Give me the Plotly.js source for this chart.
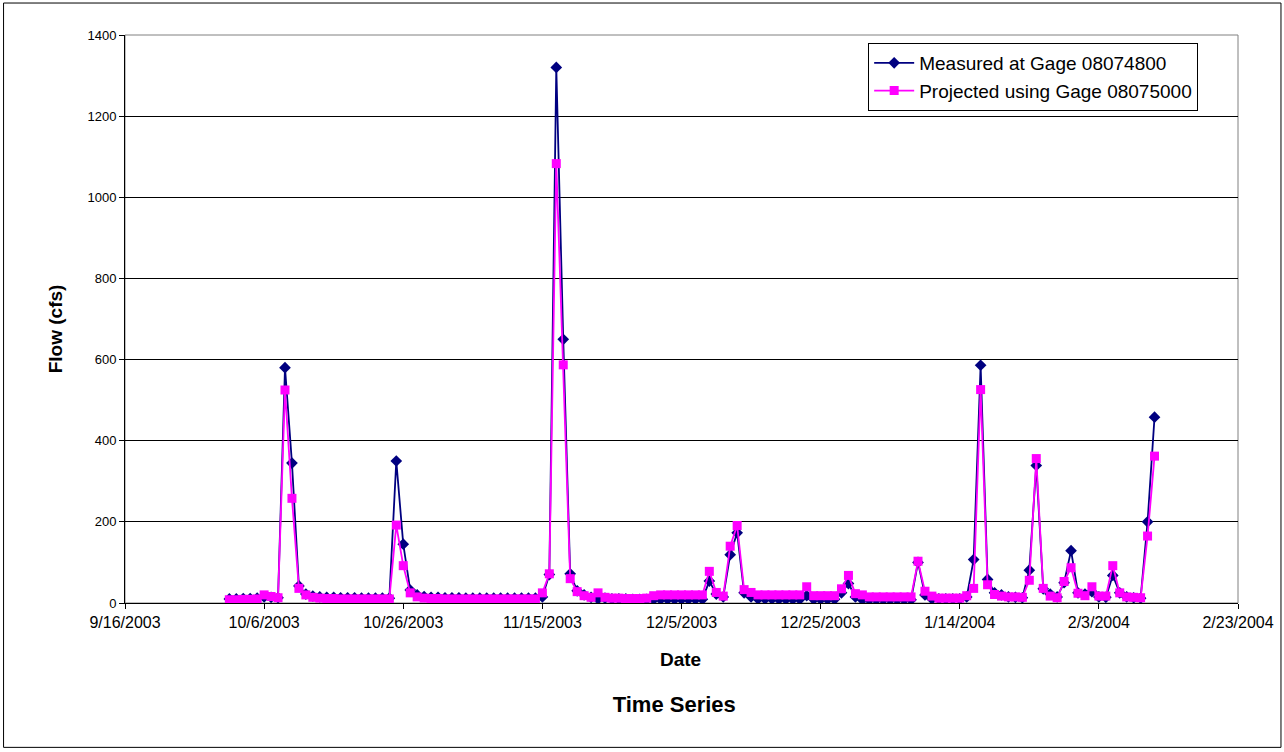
<!DOCTYPE html>
<html>
<head>
<meta charset="utf-8">
<script src="https://cdn.plot.ly/plotly-3.0.1.min.js"></script>
<style>
  html, body { margin: 0; padding: 0; background: #ffffff; }
  #chart { width: 1284px; height: 752px; }
</style>
</head>
<body>
<div id="chart"></div>
<script>
// Daily series starting 10/1/2003 through 2/11/2004
const startDate = "2003-10-01";

const measured = [
  // Oct 2003
  10,10,11,11,12,15,14,13,580,345,42,22,17,15,14,14,13,13,13,12,12,12,12,12,350,145,32,20,16,14,14,
  // Nov 2003
  13,13,13,12,12,12,12,12,12,12,12,12,12,12,15,70,1320,650,72,30,20,14,10,12,10,10,10,9,9,9,
  // Dec 2003
  9,9,9,9,9,9,9,9,54,22,15,119,173,25,15,10,10,10,9,9,9,9,18,9,9,9,9,25,48,15,8,
  // Jan 2004
  8,8,8,8,8,8,8,100,20,10,10,10,10,10,15,107,586,58,25,20,15,14,13,81,339,35,22,15,50,129,25,
  // Feb 2004
  22,28,15,14,68,25,15,13,12,200,458
];

const projected = [
  // Oct 2003
  8,8,9,9,10,20,16,13,525,258,36,20,14,12,11,11,10,10,10,10,10,10,10,10,192,92,25,15,12,11,11,
  // Nov 2003
  10,10,10,10,10,10,10,10,10,10,10,10,10,10,25,72,1083,587,60,28,18,14,25,14,12,12,11,11,11,12,
  // Dec 2003
  18,20,20,20,20,20,20,20,78,26,17,140,191,33,26,20,20,20,20,20,20,20,40,18,18,18,18,35,68,23,20,
  // Jan 2004
  15,15,15,15,15,15,15,103,29,17,12,12,12,12,18,36,526,45,21,17,15,15,14,56,356,36,17,13,53,87,24,
  // Feb 2004
  18,40,17,17,92,25,15,14,13,165,362
];

const seriesNames = ["Measured at Gage 08074800", "Projected using Gage 08075000"];

const xTickVals = ["2003-09-16","2003-10-06","2003-10-26","2003-11-15","2003-12-05","2003-12-25","2004-01-14","2004-02-03","2004-02-23"];
const xTickText = ["9/16/2003","10/6/2003","10/26/2003","11/15/2003","12/5/2003","12/25/2003","1/14/2004","2/3/2004","2/23/2004"];
const yTickVals = [0,200,400,600,800,1000,1200,1400];

const dates = [];
{
  const t0 = Date.parse(startDate + "T00:00:00Z");
  for (let i = 0; i < measured.length; i++) {
    dates.push(new Date(t0 + i * 86400000).toISOString().slice(0, 10));
  }
}

const font = "Liberation Sans, Arial, sans-serif";
const plotW = 1284 - 124.5 - 46, plotH = 752 - 35 - 148.5;
const px2x = p => (p - 124.5) / plotW;
const py2y = p => (603.5 - p) / plotH;

const traces = [
  {
    x: dates, y: measured, name: seriesNames[0], type: "scatter", mode: "lines+markers",
    line: { color: "#000080", width: 1.8 },
    marker: { symbol: "diamond", size: 9, color: "#000080" }
  },
  {
    x: dates, y: projected, name: seriesNames[1], type: "scatter", mode: "lines+markers",
    line: { color: "#FF00FF", width: 1.8 },
    marker: { symbol: "square", size: 9, color: "#FF00FF" }
  }
];

const layout = {
  width: 1284, height: 752,
  margin: { l: 124.5, r: 46, t: 35, b: 148.5 },
  paper_bgcolor: "#ffffff", plot_bgcolor: "#ffffff",
  font: { family: font, color: "#000000", size: 13 },
  showlegend: true,
  title: { text: "<b>Time Series</b>", font: { family: font, size: 22, color: "#000" },
           x: px2x(674), xref: "paper", xanchor: "center", y: 1 - 704 / 752, yref: "container", yanchor: "middle" },
  xaxis: {
    type: "date", range: ["2003-09-16", "2004-02-23"],
    tickmode: "array", tickvals: xTickVals, ticktext: xTickText,
    ticks: "outside", ticklen: 5, tickcolor: "#000", tickwidth: 1,
    showline: true, linecolor: "#000", linewidth: 1,
    showgrid: false, zeroline: false,
    tickfont: { family: font, size: 16, color: "#000" }
  },
  yaxis: {
    range: [0, 1400], tickmode: "array", tickvals: yTickVals,
    ticks: "outside", ticklen: 5, tickcolor: "#000", tickwidth: 1,
    showline: true, linecolor: "#000", linewidth: 1,
    showgrid: true, gridcolor: "#000000", gridwidth: 1,
    zeroline: false,
    tickfont: { family: font, size: 13, color: "#000" }
  },
  legend: {
    x: px2x(868), y: py2y(43), xanchor: "left", yanchor: "top",
    bgcolor: "#ffffff", bordercolor: "#000000", borderwidth: 1,
    font: { family: font, size: 19, color: "#000" },
    tracegroupgap: 0, itemwidth: 40
  },
  annotations: [
    { text: "<b>Date</b>", xref: "paper", yref: "paper", x: px2x(680), y: py2y(660),
      xanchor: "center", yanchor: "middle", showarrow: false,
      font: { family: font, size: 19, color: "#000" } },
    { text: "<b>Flow (cfs)</b>", xref: "paper", yref: "paper", x: px2x(55), y: py2y(329),
      xanchor: "center", yanchor: "middle", showarrow: false, textangle: -90,
      font: { family: font, size: 19, color: "#000" } }
  ],
  shapes: [
    { type: "rect", xref: "paper", yref: "paper", x0: 0, x1: 1, y0: 0, y1: 1,
      line: { color: "#808080", width: 1 }, fillcolor: "rgba(0,0,0,0)", layer: "below" },
    { type: "rect", xref: "paper", yref: "paper",
      x0: px2x(3), x1: px2x(1281), y0: py2y(748), y1: py2y(3),
      line: { color: "#000000", width: 1 }, fillcolor: "rgba(0,0,0,0)" }
  ]
};

Plotly.newPlot("chart", traces, layout, { displayModeBar: false, staticPlot: true });
</script>
</body>
</html>
